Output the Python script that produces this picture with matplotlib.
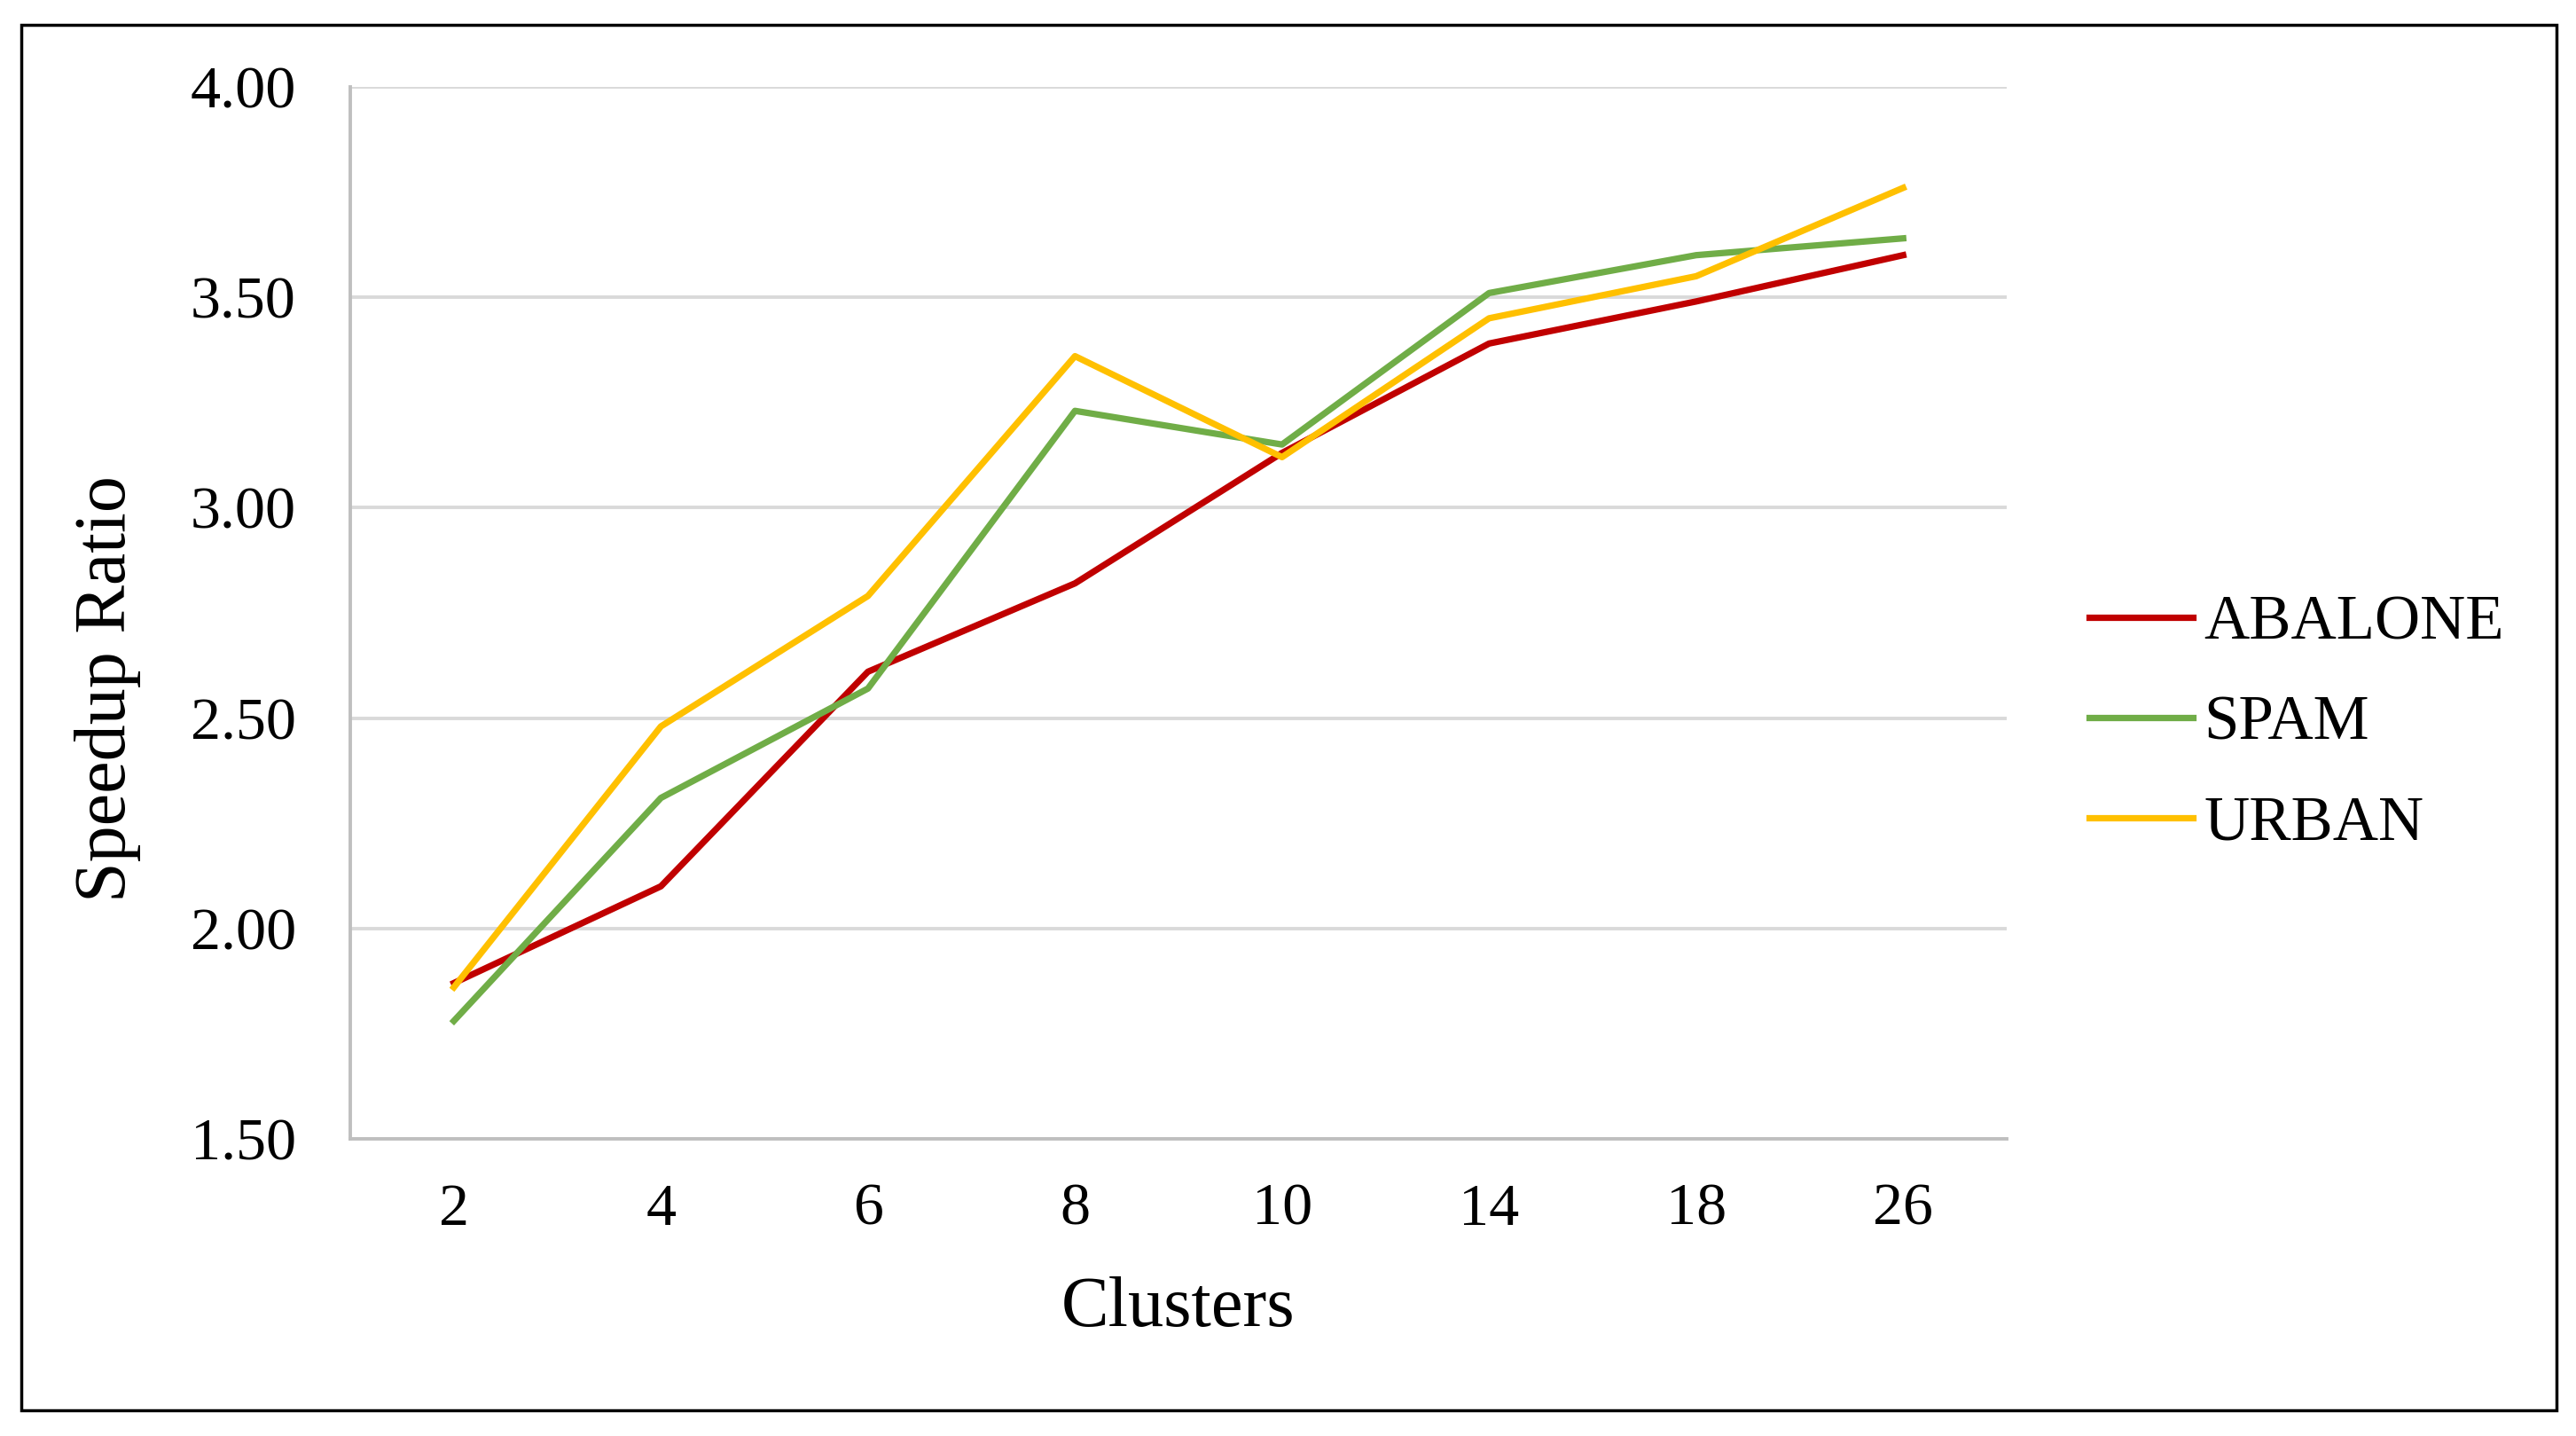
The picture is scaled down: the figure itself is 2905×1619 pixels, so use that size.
import matplotlib.pyplot as plt
from matplotlib.patches import Rectangle

clusters = ["2", "4", "6", "8", "10", "14", "18", "26"]
abalone = [1.87, 2.10, 2.61, 2.82, 3.13, 3.39, 3.49, 3.60]
spam = [1.78, 2.31, 2.57, 3.23, 3.15, 3.51, 3.60, 3.64]
urban = [1.86, 2.48, 2.79, 3.36, 3.12, 3.45, 3.55, 3.76]

plt.rcParams['font.family'] = ['Liberation Serif', 'DejaVu Serif']

fig = plt.figure(figsize=(29.05, 16.19), dpi=100)
ax = fig.add_axes([0.136, 0.207, 0.643, 0.7325])

x = range(len(clusters))
ax.plot(x, abalone, color='#C00000', lw=5.2, label='ABALONE')
ax.plot(x, spam, color='#70AD47', lw=5.2, label='SPAM')
ax.plot(x, urban, color='#FFC000', lw=5.2, label='URBAN')

ax.set_xlim(-0.5, len(clusters) - 0.5)
ax.set_ylim(1.5, 4.0)
ax.set_yticks([1.5, 2.0, 2.5, 3.0, 3.5, 4.0])
ax.set_yticklabels(['%.2f' % v for v in [1.5, 2.0, 2.5, 3.0, 3.5, 4.0]])
ax.set_xticks(list(x))
ax.set_xticklabels(clusters)
ax.tick_params(axis='both', length=0, labelsize=49)
ax.tick_params(axis='y', pad=44)
ax.tick_params(axis='x', pad=36)

ax.grid(axis='y', color='#d9d9d9', lw=2.8)
ax.set_axisbelow(True)
for s in ['top', 'right']:
    ax.spines[s].set_visible(False)
ax.spines['left'].set_color('#bfbfbf')
ax.spines['bottom'].set_color('#bfbfbf')
ax.spines['left'].set_linewidth(2.8)
ax.spines['bottom'].set_linewidth(2.8)

ax.set_xlabel('Clusters', fontsize=58, labelpad=32)
ax.set_ylabel('Speedup Ratio', fontsize=59, labelpad=40, y=0.428, ha='center')

fig.legend(loc='center left', bbox_to_anchor=(0.811, 0.496), frameon=False,
           fontsize=51, handlelength=1.65, handletextpad=0.18, labelspacing=0.68,
           borderpad=0, borderaxespad=0)

# outer border
fig.patches.append(Rectangle((24 / 2905, 1 - 1590 / 1619), (2883 - 24) / 2905, (1590 - 28) / 1619,
                             transform=fig.transFigure, fill=False, ec='black', lw=2.5))

fig.savefig('out.png', dpi=100)
